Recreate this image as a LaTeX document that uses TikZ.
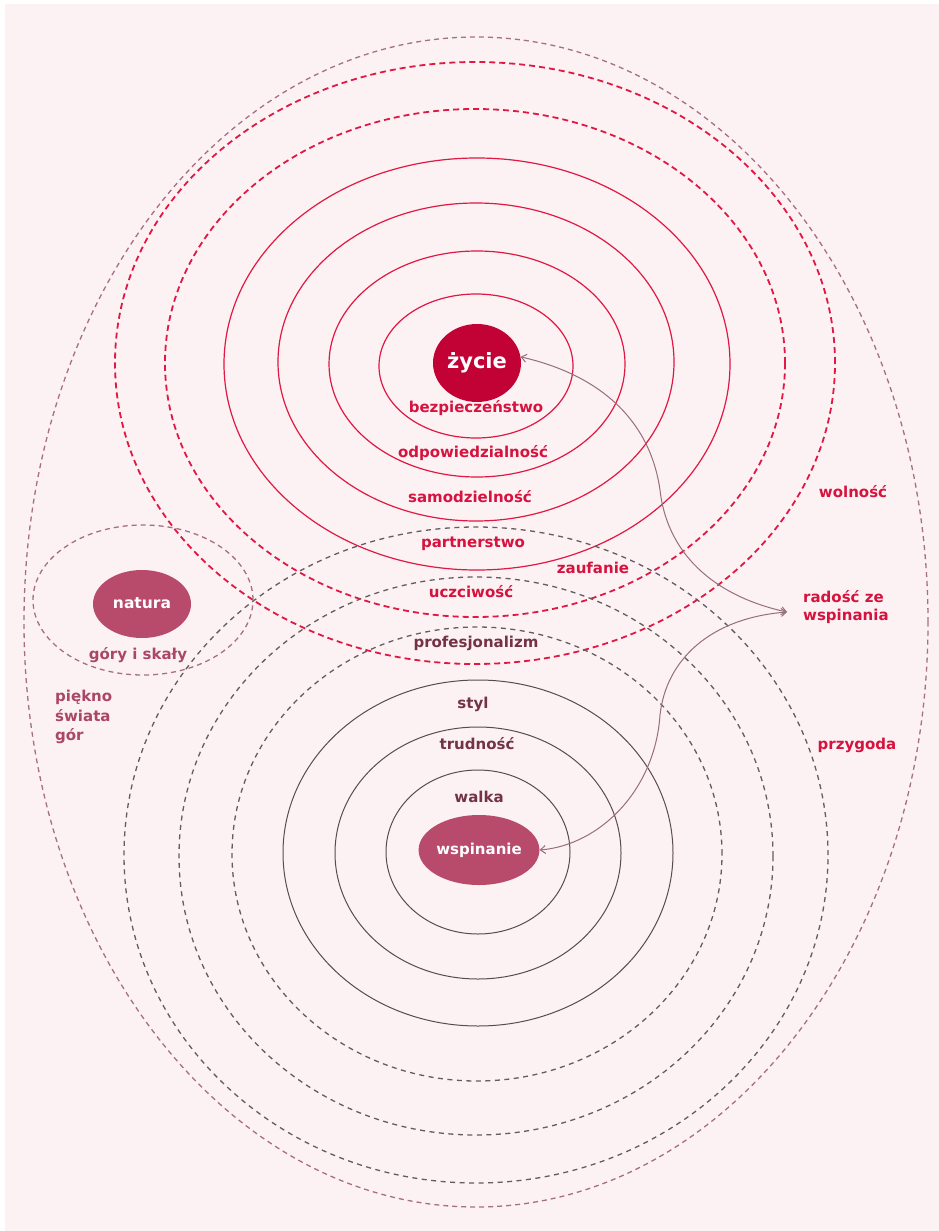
\documentclass[tikz,border=0pt]{standalone}
\usepackage{fontspec}
\setmainfont{DejaVu Sans}
\usetikzlibrary{arrows.meta,shapes.geometric}

\definecolor{pagebg}{RGB}{252,241,243}
\definecolor{ringred}{RGB}{224,24,68}
\definecolor{textred}{RGB}{214,18,62}
\definecolor{corefill}{RGB}{194,2,52}
\definecolor{rosefill}{RGB}{184,74,108}
\definecolor{mauve}{RGB}{166,112,130}
\definecolor{plum}{RGB}{116,50,72}
\definecolor{rosetext}{RGB}{170,70,104}
\definecolor{darkring}{RGB}{92,74,82}
\definecolor{graydash}{RGB}{100,92,96}
\definecolor{linkc}{RGB}{150,110,124}

\begin{document}
\begin{tikzpicture}[x=1pt,y=-1pt,
  redring/.style={draw=ringred,line width=1.2pt},
  reddash/.style={draw=ringred,line width=1.8pt,dash pattern=on 6pt off 4pt},
  darksolid/.style={draw=darkring,line width=1pt},
  graydashed/.style={draw=graydash,line width=1.3pt,dash pattern=on 5pt off 4.5pt},
  mauvedash/.style={draw=mauve,line width=1.3pt,dash pattern=on 5pt off 4pt},
  core/.style={ellipse,fill=#1,inner sep=0pt,text=white,font=\bfseries},
  lbl/.style={font=\fontsize{15}{18}\selectfont\bfseries,inner sep=0pt,
              text height=11pt,text depth=3pt},
  link/.style={draw=linkc,line width=1pt,{Straight Barb[length=5pt,width=8pt]}-{Straight Barb[length=5pt,width=8pt]}}
]
% page
\fill[white] (0,0) rectangle (939,1231);
\fill[pagebg] (5,4) rectangle (939,1231);
\useasboundingbox (0,0) rectangle (939,1231);

% outermost enclosure
\draw[mauvedash] (476,622) ellipse [x radius=452pt, y radius=585pt];

% upper family of rings
\draw[reddash] (475,363) ellipse [x radius=360pt, y radius=301pt];
\draw[reddash] (475,363) ellipse [x radius=310pt, y radius=254pt];
\draw[redring] (477,364) ellipse [x radius=253pt, y radius=206pt];
\draw[redring] (476,362) ellipse [x radius=198pt, y radius=159pt];
\draw[redring] (477,364) ellipse [x radius=148pt, y radius=113pt];
\draw[redring] (476,366) ellipse [x radius=97pt, y radius=72pt];

% lower family of rings
\draw[graydashed] (476,855) ellipse [x radius=352pt, y radius=328pt];
\draw[graydashed] (476,856) ellipse [x radius=297pt, y radius=279pt];
\draw[graydashed] (477,854) ellipse [x radius=245pt, y radius=227pt];
\draw[darksolid] (478,853) ellipse [x radius=195pt, y radius=173pt];
\draw[darksolid] (478,853) ellipse [x radius=143pt, y radius=126pt];
\draw[darksolid] (478,852) ellipse [x radius=92pt, y radius=82pt];

% nature ring
\draw[mauvedash] (143,600) ellipse [x radius=110pt, y radius=75pt];

% cores
\node[core=corefill,minimum width=88pt,minimum height=78pt,
      font=\fontsize{21}{24}\selectfont\bfseries,text height=15pt,text depth=4pt]
      (zycie) at (477,363) {życie};
\node[core=rosefill,minimum width=100pt,minimum height=70pt,
      font=\fontsize{15}{18}\selectfont\bfseries,text height=11pt,text depth=3pt]
      (wsp) at (479,850) {wspinanie};
\node[core=rosefill,minimum width=98pt,minimum height=68pt,
      font=\fontsize{15.5}{18}\selectfont\bfseries,text height=11pt,text depth=3pt]
      (natura) at (142,604) {natura};

% upper labels
\node[lbl,text=textred] (l1) at (476,408) {bezpieczeństwo};
\node[lbl,text=textred] (l2) at (473,453) {odpowiedzialność};
\node[lbl,text=textred] (l3) at (470,498) {samodzielność};
\node[lbl,text=textred] (l4) at (473,543) {partnerstwo};
\node[lbl,text=textred] (l5) at (593,569) {zaufanie};
\node[lbl,text=textred] (l6) at (471,593) {uczciwość};

% lower labels
\node[lbl,text=plum] (m1) at (476,643) {profesjonalizm};
\node[lbl,text=plum] (m2) at (473,704) {styl};
\node[lbl,text=plum] (m3) at (477,745) {trudność};
\node[lbl,text=plum] (m4) at (479,798) {walka};

% outer labels
\node[lbl,text=textred] (wol) at (853,493) {wolność};
\node[lbl,text=textred] (przy) at (857,745) {przygoda};
\node[font=\fontsize{15}{18}\selectfont\bfseries,text=textred,inner sep=0pt,
      align=left,anchor=west] (rad) at (803,607) {radość ze\\wspinania};
\coordinate (joy) at (787,612);

% nature labels
\node[lbl,text=rosetext] (gory) at (138,655) {góry i skały};
\node[font=\fontsize{15}{19.5}\selectfont\bfseries,text=rosetext,inner sep=0pt,
      align=left,anchor=west] (piekno) at (55,717) {piękno\\świata\\gór};

% links to the joy of climbing
\draw[link] (zycie.8) .. controls (600,375) and (650,420) .. (660,490)
                      .. controls (668,560) and (722,598) .. (joy);
\draw[link] (wsp.east) .. controls (600,845) and (655,790) .. (660,715)
                      .. controls (666,660) and (710,618) .. (joy);
\end{tikzpicture}
\end{document}
